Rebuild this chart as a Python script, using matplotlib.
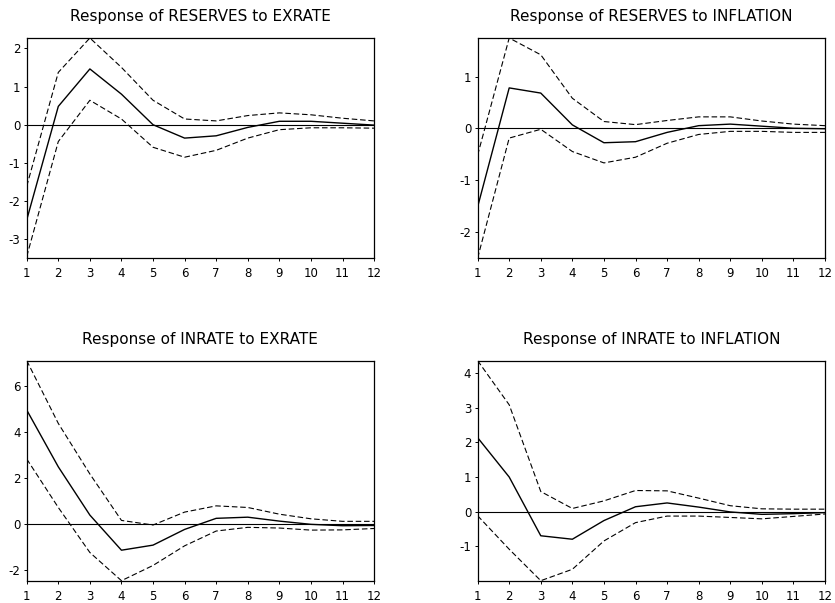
import numpy as np
import matplotlib
matplotlib.use("Agg")
import matplotlib.pyplot as plt

plt.rcParams['font.family'] = ['DejaVu Sans']
plt.rcParams['axes.unicode_minus'] = False

periods = np.arange(1, 13)

# Response of RESERVES to EXRATE
res_ex = [-2.49, 0.48, 1.46, 0.80, 0.00, -0.35, -0.29, -0.07, 0.09, 0.09, 0.04, -0.01]
res_ex_hi = [-1.61, 1.37, 2.27, 1.50, 0.64, 0.15, 0.10, 0.24, 0.31, 0.26, 0.17, 0.10]
res_ex_lo = [-3.45, -0.44, 0.64, 0.15, -0.59, -0.85, -0.67, -0.35, -0.13, -0.08, -0.08, -0.09]

# Response of RESERVES to INFLATION
res_inf = [-1.52, 0.78, 0.68, 0.065, -0.28, -0.26, -0.08, 0.05, 0.08, 0.04, 0.00, -0.01]
res_inf_hi = [-0.52, 1.745, 1.42, 0.58, 0.13, 0.07, 0.15, 0.22, 0.22, 0.14, 0.08, 0.05]
res_inf_lo = [-2.51, -0.19, -0.02, -0.45, -0.67, -0.56, -0.29, -0.12, -0.06, -0.06, -0.08, -0.08]

# Response of INRATE to EXRATE
inr_ex = [4.94, 2.48, 0.39, -1.13, -0.91, -0.23, 0.25, 0.30, 0.13, -0.01, -0.07, -0.06]
inr_ex_hi = [7.08, 4.36, 2.17, 0.16, -0.04, 0.52, 0.79, 0.72, 0.43, 0.23, 0.12, 0.12]
inr_ex_lo = [2.82, 0.72, -1.23, -2.45, -1.79, -0.94, -0.30, -0.14, -0.17, -0.26, -0.25, -0.19]

# Response of INRATE to INFLATION
inr_inf = [2.14, 1.00, -0.70, -0.80, -0.26, 0.14, 0.25, 0.13, -0.01, -0.08, -0.06, -0.03]
inr_inf_hi = [4.37, 3.09, 0.58, 0.09, 0.31, 0.61, 0.60, 0.39, 0.17, 0.08, 0.07, 0.07]
inr_inf_lo = [-0.12, -1.09, -2.00, -1.67, -0.85, -0.32, -0.13, -0.13, -0.17, -0.21, -0.14, -0.07]

titles = ["Response of RESERVES to EXRATE", "Response of RESERVES to INFLATION",
          "Response of INRATE to EXRATE", "Response of INRATE to INFLATION"]
panels = [(res_ex, res_ex_hi, res_ex_lo), (res_inf, res_inf_hi, res_inf_lo),
          (inr_ex, inr_ex_hi, inr_ex_lo), (inr_inf, inr_inf_hi, inr_inf_lo)]
ylims = [(-3.49, 2.27), (-2.51, 1.745), (-2.45, 7.08), (-2.0, 4.37)]
yticks = [[-3, -2, -1, 0, 1, 2], [-2, -1, 0, 1], [-2, 0, 2, 4, 6], [-1, 0, 1, 2, 3, 4]]
positions = [[0.032, 0.572, 0.416, 0.365], [0.572, 0.572, 0.416, 0.365],
             [0.032, 0.037, 0.416, 0.365], [0.572, 0.037, 0.416, 0.365]]

fig = plt.figure(figsize=(8.35, 6.03), dpi=100)

for i in range(4):
    ax = fig.add_axes(positions[i])
    mid, hi, lo = panels[i]
    ax.axhline(0, color='black', lw=0.8)
    ax.plot(periods, mid, color='black', lw=1.0)
    ax.plot(periods, hi, color='black', lw=0.8, dashes=(5, 2.5))
    ax.plot(periods, lo, color='black', lw=0.8, dashes=(5, 2.5))
    ax.set_xlim(1, 12)
    ax.set_ylim(*ylims[i])
    ax.set_xticks(periods)
    ax.set_yticks(yticks[i])
    ax.tick_params(direction='out', length=2.5, width=0.7, labelsize=8.5)
    ax.tick_params(axis='x', pad=4)
    ax.tick_params(axis='y', pad=2)
    for s in ax.spines.values():
        s.set_linewidth(0.9)
    ax.set_title(titles[i], fontsize=11, pad=12)

fig.savefig("out.png", dpi=100)
